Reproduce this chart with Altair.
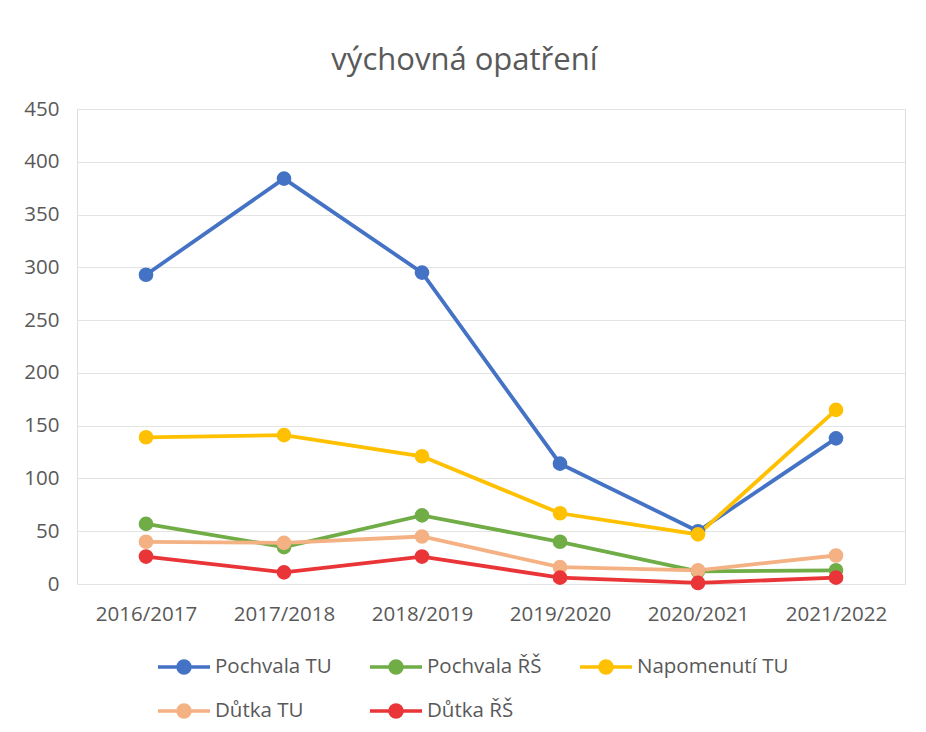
import altair as alt
import pandas as pd

years = ["2016/2017", "2017/2018", "2018/2019", "2019/2020", "2020/2021", "2021/2022"]
series_names = ["Pochvala TU", "Pochvala ŘŠ", "Napomenutí TU", "Důtka TU", "Důtka ŘŠ"]
pochvala_tu = [293, 384, 295, 114, 50, 138]
pochvala_rs = [57, 35, 65, 40, 12, 13]
napomenuti_tu = [139, 141, 121, 67, 47, 165]
dutka_tu = [40, 39, 45, 16, 13, 27]
dutka_rs = [26, 11, 26, 6, 1, 6]
colors = ["#4472C4", "#70AD47", "#FFC000", "#F4B183", "#EA3538"]

values = [pochvala_tu, pochvala_rs, napomenuti_tu, dutka_tu, dutka_rs]
rows = []
for si, (name, vals) in enumerate(zip(series_names, values)):
    for y, v in zip(years, vals):
        rows.append({"rok": y, "řada": name, "hodnota": v, "poradi": si})
df = pd.DataFrame(rows)

FONT = "Open Sans"
GREY = "#595959"

sym_path = ("M -1.3 0 L 1.3 0 "
            "M 0.3 0 A 0.3 0.3 0 1 1 -0.3 0 A 0.3 0.3 0 1 1 0.3 0 Z")

legend = alt.Legend(
    title=None,
    orient="none",
    legendX=85,
    legendY=536,
    direction="horizontal",
    columns=3,
    symbolType=sym_path,
    symbolSize=1600,
    symbolStrokeWidth=3.5,
    symbolOpacity=1,
    labelFont=FONT,
    labelFontSize=20.5,
    labelColor=GREY,
    labelOffset=9,
    columnPadding=31,
    rowPadding=9,
    labelLimit=300,
)

cscale = alt.Scale(domain=series_names, range=colors)

x_enc = alt.X("rok:N", sort=years, scale=alt.Scale(type="point", padding=0.5),
              axis=alt.Axis(title=None, labelAngle=0, domain=False, ticks=False,
                            labelFont=FONT, labelFontSize=20.5, labelColor=GREY,
                            labelPadding=20, grid=False))
y_enc = alt.Y("hodnota:Q", scale=alt.Scale(domain=[0, 450], nice=False),
              axis=alt.Axis(title=None, values=list(range(0, 451, 50)), domain=False,
                            ticks=False, labelFont=FONT, labelFontSize=20.5,
                            labelColor=GREY, labelPadding=18, gridColor="#E3E3E3",
                            gridWidth=1.2))

base = alt.Chart(df)

lines = base.mark_line(strokeWidth=3.8).encode(
    x=x_enc, y=y_enc,
    stroke=alt.Stroke("řada:N", sort=series_names, scale=cscale, legend=legend),
    order=alt.Order("poradi:Q"),
    detail="řada:N",
)

points = base.mark_point(filled=True, size=160, opacity=1).encode(
    x=x_enc, y=y_enc,
    fill=alt.Fill("řada:N", sort=series_names, scale=cscale, legend=legend),
    stroke=alt.Stroke("řada:N", sort=series_names, scale=cscale, legend=legend),
)

chart = alt.layer(lines, points).properties(
    width=828,
    height=475,
    title=alt.TitleParams("výchovná opatření", font=FONT, fontSize=31,
                          fontWeight="normal", color=GREY, anchor="middle",
                          frame="bounds", offset=22),
    autosize=alt.AutoSizeParams(type="none"),
    padding={"left": 69, "top": 101, "right": 13, "bottom": 138},
).configure_view(stroke=None).configure(background="white")

chart.save("out.html", embed_options={"renderer": "svg", "actions": False})
